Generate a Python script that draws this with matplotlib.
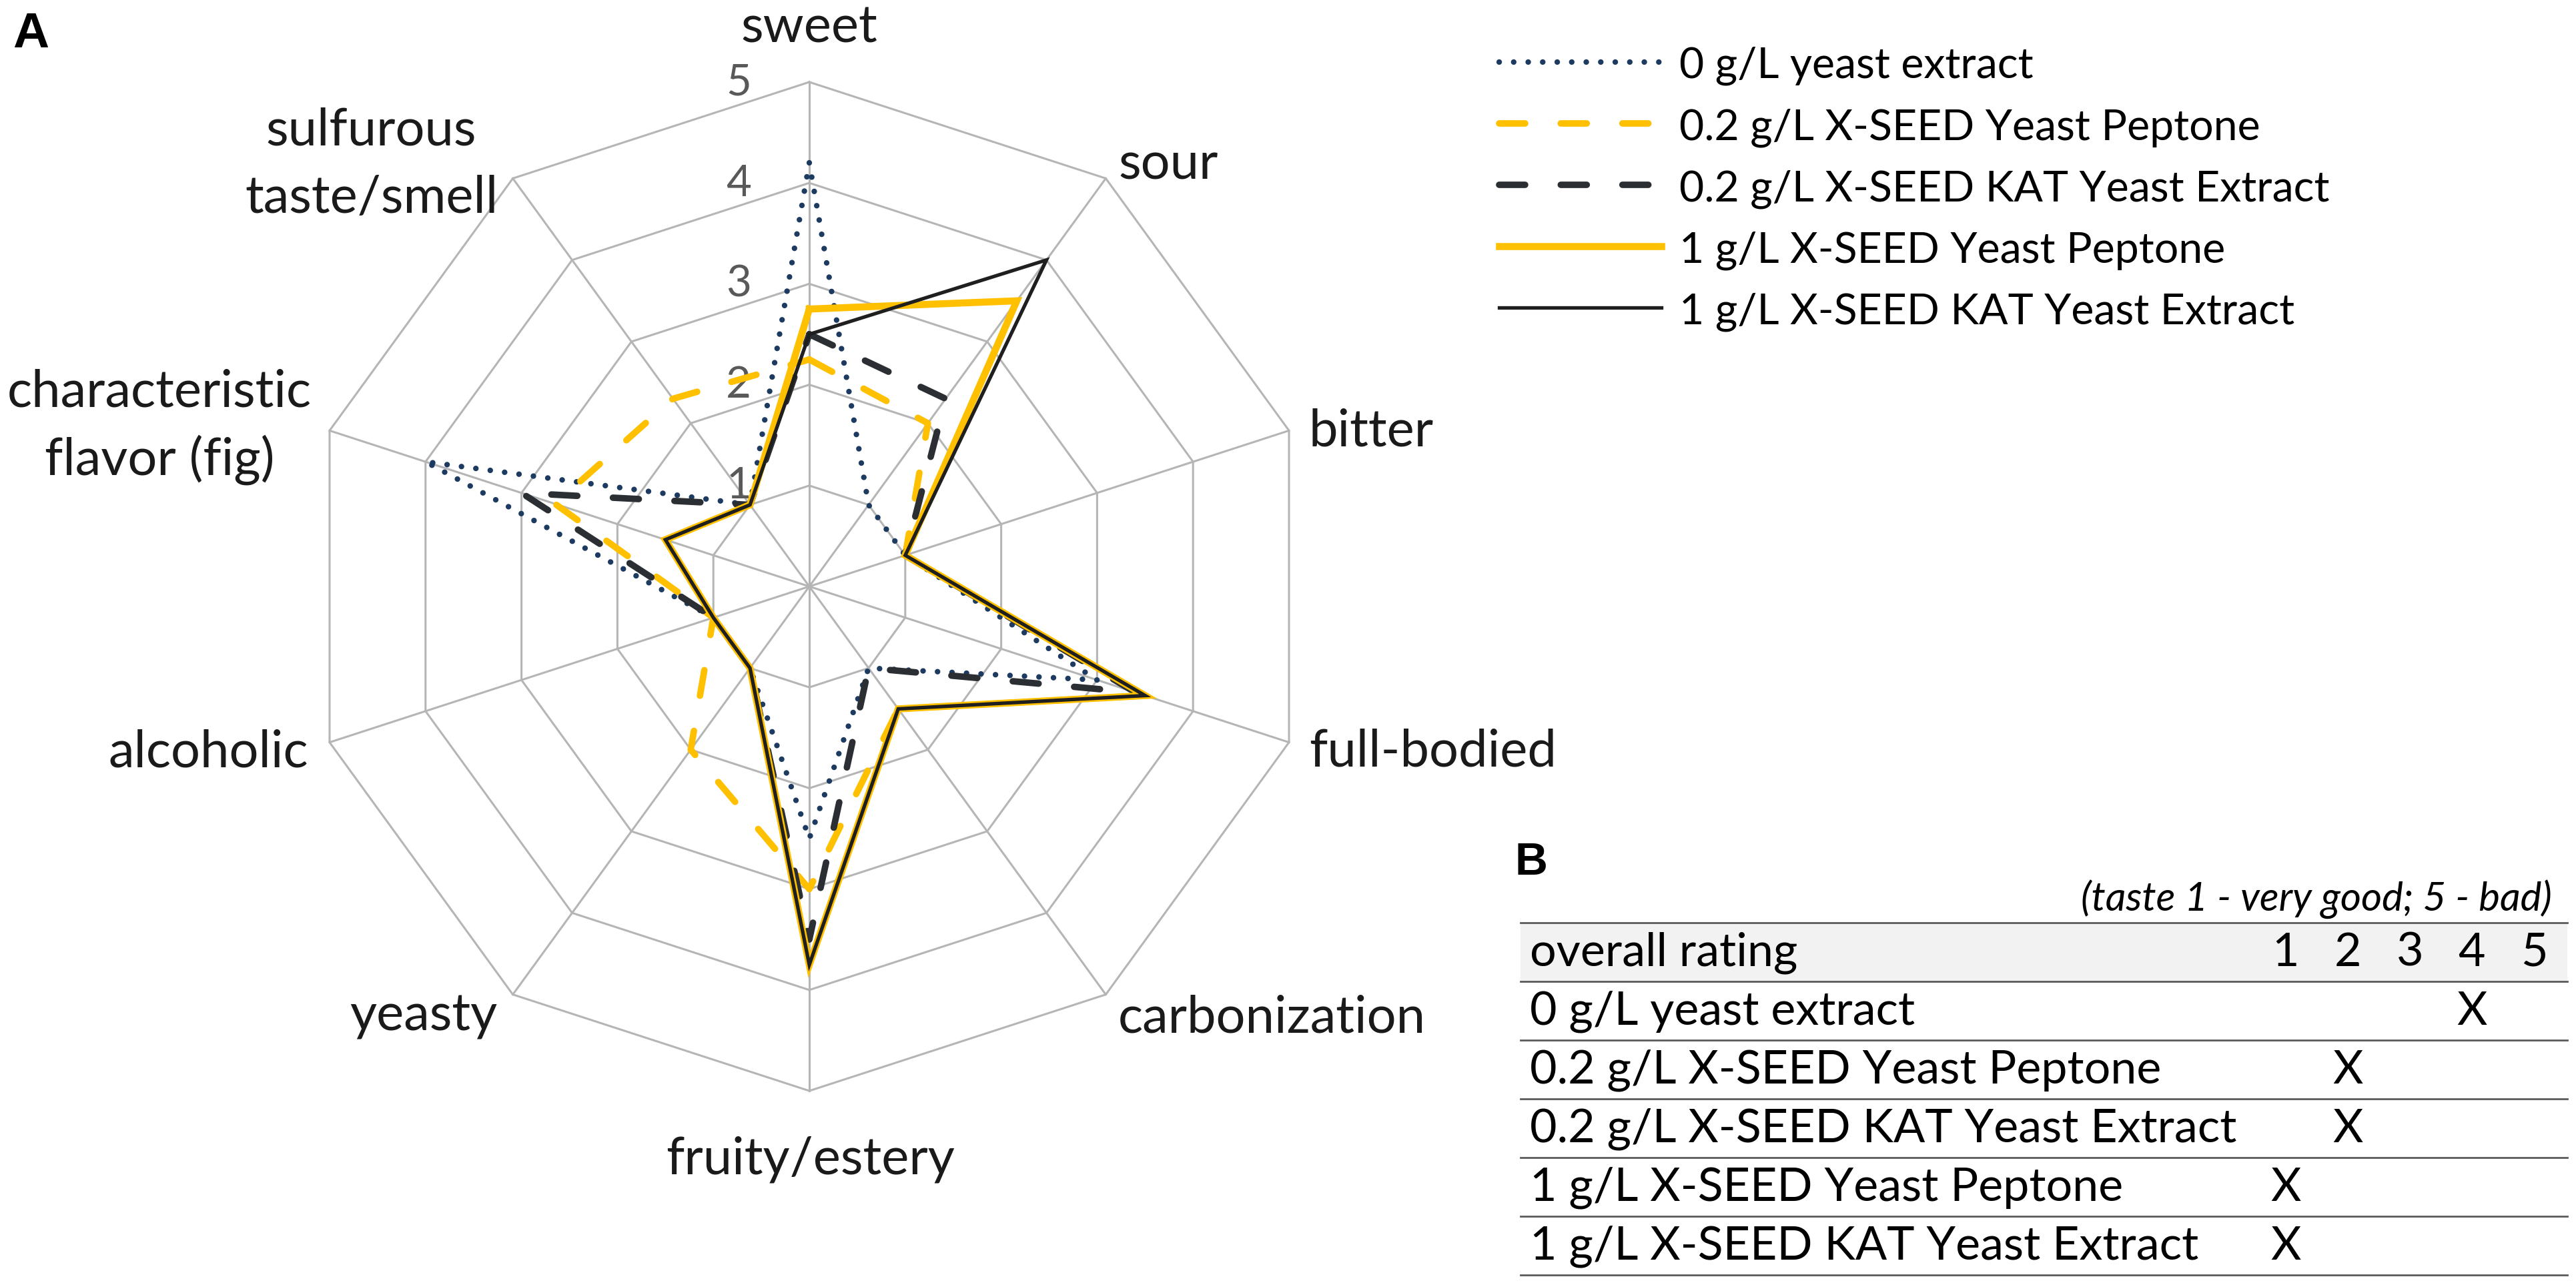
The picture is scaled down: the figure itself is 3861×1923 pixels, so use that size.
import numpy as np
import matplotlib
matplotlib.use("Agg")
import matplotlib.pyplot as plt

plt.rcParams["font.family"] = ["Lato", "DejaVu Sans"]

# ---- panel A: sensory profile, attributes clockwise from the top ----
attributes = ["sweet", "sour", "bitter", "full-bodied", "carbonization",
              "fruity/estery", "yeasty", "alcoholic",
              "characteristic\nflavor (fig)", "sulfurous\ntaste/smell"]

samples = ["0 g/L yeast extract",
           "0.2 g/L X-SEED Yeast Peptone",
           "0.2 g/L X-SEED KAT Yeast Extract",
           "1 g/L X-SEED Yeast Peptone",
           "1 g/L X-SEED KAT Yeast Extract"]

no_extract   = [4.2, 1.0, 1.0, 3.0, 1.0, 2.5, 1.0, 1.0, 4.0, 1.0]
peptone_low  = [2.25, 2.0, 1.0, 3.5, 1.5, 3.0, 2.0, 1.0, 2.65, 2.3]
kat_low      = [2.5, 2.3, 1.0, 3.4, 1.0, 3.5, 1.0, 1.0, 3.0, 1.0]
peptone_high = [2.75, 3.5, 1.0, 3.5, 1.5, 3.75, 1.0, 1.0, 1.5, 1.0]
kat_high     = [2.5, 4.0, 1.0, 3.5, 1.5, 3.75, 1.0, 1.0, 1.5, 1.0]

ring_values = [1, 2, 3, 4, 5]

# ---- panel B: overall rating (1 very good .. 5 bad) ----
rating_scale = [1, 2, 3, 4, 5]
overall_rating = [4, 2, 2, 1, 1]

W, H, DPI = 3862, 1924, 200
fig = plt.figure(figsize=(W / DPI, H / DPI), dpi=DPI)

# radar, centre and outer radius in pixels
cx, cy, rad = 1213, 880, 756
ax = fig.add_axes([(cx - rad) / W, (H - cy - rad) / H, 2 * rad / W, 2 * rad / H],
                  projection="polar")
ax.set_theta_zero_location("N")
ax.set_theta_direction(-1)
ax.set_ylim(0, ring_values[-1])
ax.set_axis_off()

n = len(attributes)
angles = np.linspace(0, 2 * np.pi, n, endpoint=False)
closed = np.append(angles, angles[0])

grid_color = "#b5b5b5"
for r in ring_values:
    ax.plot(closed, [r] * (n + 1), color=grid_color, lw=1.1, zorder=1, clip_on=False)
for a in angles:
    ax.plot([a, a], [0, ring_values[-1]], color=grid_color, lw=1.1, zorder=1, clip_on=False)

for r in ring_values:
    ax.annotate(str(r), xy=(0, r), xytext=(-87, 0), textcoords="offset pixels",
                ha="right", va="center", fontsize=23.5, color="#595959", zorder=1.5)

# label offsets from the outer vertex, in pixels
label_pos = [(0, 60, "center"), (19, 0, "left"), (30, -22, "left"),
             (30, -35, "left"), (18, -56, "left"), (2, -124, "center"),
             (-23, -53, "right"), (-32, -36, "right"), (-255, 37, "center"),
             (-212, 51, "center")]
for a, label, (dx, dy, ha) in zip(angles, attributes, label_pos):
    for k, part in enumerate(label.split("\n")):
        ax.annotate(part, xy=(a, ring_values[-1]), xytext=(dx, dy - 102 * k),
                    textcoords="offset pixels", ha=ha, va="baseline",
                    fontsize=28, color="#1a1a1a", annotation_clip=False)

navy, gold, charcoal = "#1d3b60", "#ffc000", "#2b2f33"
styles = [
    dict(color=navy, lw=3.0, ls=(0, (0.01, 2.6)), dash_capstyle="round"),
    dict(color=gold, lw=3.5, ls=(0, (4.0, 5.5)), dash_capstyle="round"),
    dict(color=charcoal, lw=3.5, ls=(0, (4.0, 5.5)), dash_capstyle="round"),
    dict(color=gold, lw=3.8, ls="-"),
    dict(color="#1f1f1f", lw=1.9, ls="-"),
]
series = [no_extract, peptone_low, kat_low, peptone_high, kat_high]
handles = []
for vals, name, st in zip(series, samples, styles):
    line, = ax.plot(closed, vals + vals[:1], label=name, zorder=3, clip_on=False,
                    solid_joinstyle="miter", **st)
    handles.append(line)

fig.legend(handles=handles, loc="upper left", bbox_to_anchor=(2247 / W, 1 - 70 / H),
           frameon=False, fontsize=23.2, handlelength=3.77, handletextpad=0.42,
           labelspacing=0.52, borderpad=0, borderaxespad=0)

fig.text(19 / W, 1 - 71 / H, "A", family="Liberation Sans", fontweight="bold",
         fontsize=27, va="baseline", ha="left")

# ---- panel B table ----
tx0, tx1, ty0, ty1 = 2279, 3848, 1384, 1912
col1, col_step = 3426, 93
tax = fig.add_axes([tx0 / W, 1 - ty1 / H, (tx1 - tx0) / W, (ty1 - ty0) / H])
tax.set_xlim(1 + (tx0 - col1) / col_step, 1 + (tx1 - col1) / col_step)
nrows = len(samples) + 1
tax.set_ylim(nrows, 0)
tax.axis("off")

tax.axhspan(0, 1, color="#f2f2f2", zorder=0)
for y in range(nrows + 1):
    tax.axhline(y, color="#5a5a5a", lw=1.0, clip_on=False)

fs_table = 25.2
text_x = tax.get_xlim()[0] + 14 / col_step
tax.text(text_x, 0.5, "overall rating", ha="left", va="center", fontsize=fs_table)
for v in rating_scale:
    tax.text(v, 0.5, str(v), ha="center", va="center", fontsize=fs_table)
for i, (name, score) in enumerate(zip(samples, overall_rating)):
    tax.text(text_x, i + 1.5, name, ha="left", va="center", fontsize=fs_table)
    tax.text(score, i + 1.5, "X", ha="center", va="center", fontsize=fs_table)

tax.text(1 + (3825 - col1) / col_step, -0.41, "(taste 1 - very good; 5 - bad)",
         ha="right", va="center", fontsize=21.6, style="italic", clip_on=False)

fig.text(2271 / W, 1 - 1311 / H, "B", family="Liberation Sans", fontweight="bold",
         fontsize=24.5, va="baseline", ha="left")

fig.savefig("out.png", dpi=DPI, facecolor="white")
